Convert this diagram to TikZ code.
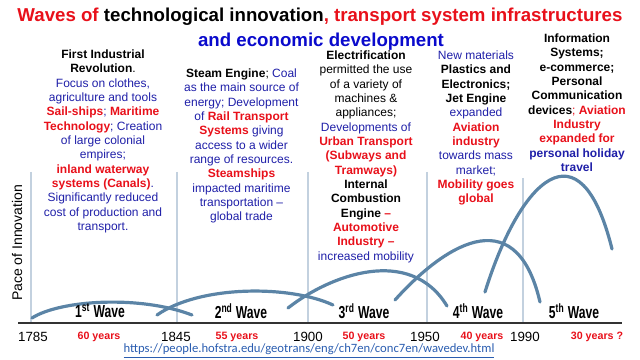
\documentclass[tikz,border=0pt]{standalone}
\usepackage{fontspec}
\setmainfont{Liberation Sans}
\newfontfamily\urlfont{Carlito}
\newfontfamily\wavefont[FakeStretch=0.7]{Liberation Sans}
\usepackage{tikz}
\usetikzlibrary{positioning}
\usepackage{xcolor}
\definecolor{wred}{HTML}{E8101A}
\definecolor{wblue}{HTML}{1F1FA8}
\definecolor{tblue}{HTML}{0A0ACC}
\definecolor{curve}{HTML}{5B84A6}
\definecolor{era}{HTML}{C3D1DF}
\definecolor{axisgray}{HTML}{333333}
\definecolor{link}{HTML}{2A5DB0}
\newcommand{\txtred}[1]{\textcolor{wred}{\textbf{#1}}}
\newcommand{\txtblk}[1]{\textcolor{black}{\textbf{#1}}}
\newcommand{\txtblu}[1]{\textcolor{wblue}{#1}}
\tikzset{
  info/.style={anchor=north, align=center, inner sep=0pt, text=wblue,
    font=\fontsize{9}{10.75}\selectfont},
  wave/.style={curve, line width=2.4pt, line cap=round},
  era line/.style={era, line width=2.2pt},
  year/.style={inner sep=0pt, font=\fontsize{10}{12}\selectfont},
  span/.style={inner sep=0pt, text=wred, font=\fontsize{8}{10}\selectfont\bfseries},
  wavelabel/.style={inner sep=0pt, font=\wavefont\fontsize{13}{15}\selectfont\bfseries}
}

\begin{document}
\begin{tikzpicture}[x=0.75pt, y=-0.75pt]
  \useasboundingbox (0,0) rectangle (640,360);
  % title
  \node[anchor=base, inner sep=0pt, font=\fontsize{14}{17}\selectfont\bfseries] (title1) at (320,22)
    {\textcolor{wred}{Waves of} technological innovation\textcolor{wred}{, transport system infrastructures}};
  \node[anchor=base, inner sep=0pt, text=tblue, font=\fontsize{14}{17}\selectfont\bfseries] (title2) at (321,47)
    {and economic development};

  % era separators
  \draw[era line] (31,172) -- (31,323);
  \draw[era line] (177,172) -- (177,323);
  \draw[era line] (308,172) -- (308,323);
  \draw[era line] (427,172) -- (427,323);
  \draw[era line] (523,178) -- (523,323);

  % the five waves
  \draw[wave] (32,318) .. controls (60,300) and (140,295) .. (192,315);
  \draw[wave] (157,315) .. controls (200,285) and (290,285) .. (333,305);
  \draw[wave] (288,308) .. controls (330,275) and (410,245) .. (447,306);
  \draw[wave] (395,300) .. controls (440,250) and (515,195) .. (540,302);
  \draw[wave] (485,292) .. controls (520,180) and (580,120) .. (612,249);

  % time axis
  \draw[axisgray, line width=2.2pt] (18,323) -- (622,323);
  \node[rotate=90, inner sep=0pt, font=\fontsize{10.5}{12}\selectfont] (pace) at (17,243) {Pace of Innovation};

  \node[wavelabel] (w1) at (100,311) {1\textsuperscript{st} Wave};
  \node[wavelabel] (w2) at (241,311) {2\textsuperscript{nd} Wave};
  \node[wavelabel] (w3) at (364,311) {3\textsuperscript{rd} Wave};
  \node[wavelabel] (w4) at (478,311) {4\textsuperscript{th} Wave};
  \node[wavelabel] (w5) at (574,311) {5\textsuperscript{th} Wave};

  \node[year] (y1785) at (33,337) {1785};
  \node[year] (y1845) at (176,337) {1845};
  \node[year] (y1900) at (308,337) {1900};
  \node[year] (y1950) at (425,337) {1950};
  \node[year] (y1990) at (525,337) {1990};
  \node[span] (d1) at (99,337) {60 years};
  \node[span] (d2) at (237,337) {55 years};
  \node[span] (d3) at (364,337) {50 years};
  \node[span] (d4) at (482,337) {40 years};
  \node[span] (d5) at (597,337) {30 years ?};

  \node[inner sep=0pt, text=link, font=\urlfont\fontsize{9.5}{11}\selectfont] (url) at (309,351)
    {\underline{https://people.hofstra.edu/geotrans/eng/ch7en/conc7en/wavedev.html}};

  % descriptions of each wave
  \node[info] (first) at (103,49.7) {\txtblk{First Industrial}\\
    \txtblk{Revolution}\textcolor{black}{.}\\
    Focus on clothes,\\
    agriculture and tools\\
    \txtred{Sail-ships}; \txtred{Maritime}\\
    \txtred{Technology}; Creation\\
    of large colonial\\
    empires;\\
    \txtred{inland waterway}\\
    \txtred{systems (Canals)}.\\
    Significantly reduced\\
    cost of production and\\
    transport.};
  \node[info] (second) at (241.5,68.4) {\txtblk{Steam Engine}\textcolor{black}{;} Coal\\
    as the main source of\\
    energy; Development\\
    of \txtred{Rail Transport}\\
    \txtred{Systems} giving\\
    access to a wider\\
    range of resources.\\
    \txtred{Steamships}\\
    impacted maritime\\
    transportation --\\
    global trade};
  \node[info, text=black] (third) at (366,50.7) {\textbf{Electrification}\\
    permitted the use\\
    of a variety of\\
    machines \&\\
    appliances;\\
    \txtblu{Developments of}\\
    \txtred{Urban Transport}\\
    \txtred{(Subways and}\\
    \txtred{Tramways)}\\
    \textbf{Internal}\\
    \textbf{Combustion}\\
    \textbf{Engine} \txtred{--}\\
    \txtred{Automotive}\\
    \txtred{Industry --}\\
    \txtblu{increased mobility}};
  \node[info] (fourth) at (476,50.7) {New materials\\
    \txtblk{Plastics and}\\
    \txtblk{Electronics;}\\
    \txtblk{Jet Engine}\\
    expanded\\
    \txtred{Aviation}\\
    \txtred{industry}\\
    towards mass\\
    market;\\
    \txtred{Mobility goes}\\
    \txtred{global}};
  \node[info, text=black] (fifth) at (577,33.7) {\textbf{Information}\\
    \textbf{Systems;}\\
    \textbf{e-commerce;}\\
    \textbf{Personal}\\
    \textbf{Communication}\\
    \textbf{devices}\textcolor{wred}{;} \txtred{Aviation}\\
    \txtred{Industry}\\
    \txtred{expanded for}\\
    \textcolor{wblue}{\textbf{personal holiday}}\\
    \textcolor{wblue}{\textbf{travel}}};
\end{tikzpicture}
\end{document}
